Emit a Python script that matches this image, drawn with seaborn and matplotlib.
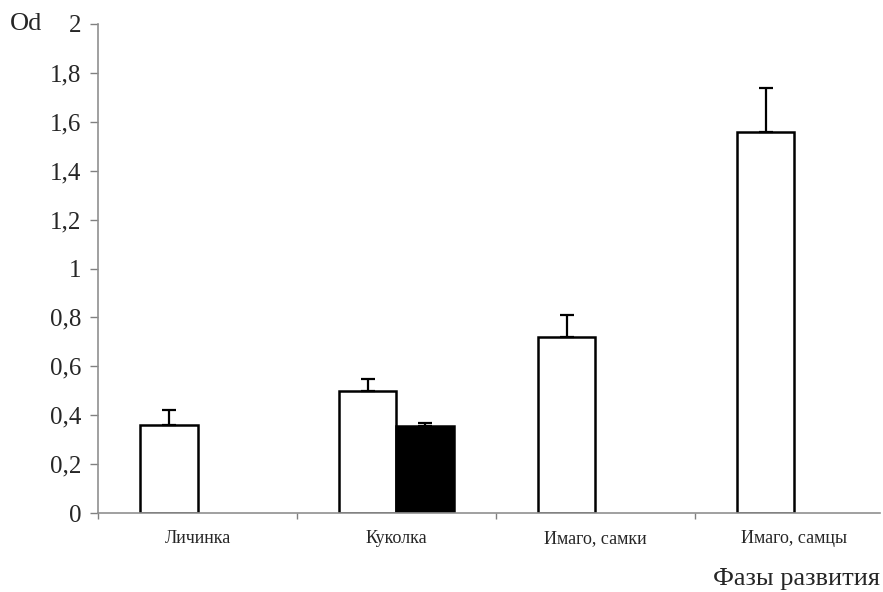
import pandas as pd
import numpy as np
import matplotlib
matplotlib.use("Agg")
import matplotlib.pyplot as plt
import seaborn as sns

# ── data ──
phases = ["Личинка", "Куколка", "Имаго, самки", "Имаго, самцы"]
series = ["A", "B"]
od_a = [0.36, 0.50, 0.72, 1.56]
err_a = [0.06, 0.05, 0.09, 0.18]
od_b = [np.nan, 0.355, np.nan, np.nan]
err_b = [np.nan, 0.012, np.nan, np.nan]
y_ticks = np.arange(0, 2.01, 0.2)
y_label = "Od"
x_label = "Фазы развития"

rows = []
for i, ph in enumerate(phases):
    rows.append({"phase": ph, "series": "A", "od": od_a[i], "err": err_a[i]})
    rows.append({"phase": ph, "series": "B", "od": od_b[i], "err": err_b[i]})
df = pd.DataFrame(rows)

sns.set_theme(style="white")
plt.rcParams["font.family"] = ["Liberation Serif", "DejaVu Serif"]

fig = plt.figure(figsize=(8.83, 5.92), dpi=100)
ax = fig.add_axes([0.111, 0.1334, 0.8856, 0.8261])

sns.barplot(data=df.dropna(subset=["od"]), x="phase", y="od", hue="series",
            order=phases, hue_order=series, palette=["white", "black"],
            edgecolor="black", linewidth=1.8, width=0.58, errorbar=None,
            legend=False, ax=ax)

# one-sided (plus) error bars on top of each bar
for k, s in enumerate(series):
    sub = df[(df.series == s)].dropna(subset=["od"])
    for bar, (_, r) in zip(ax.containers[k], sub.iterrows()):
        xc = bar.get_x() + bar.get_width() / 2
        ax.errorbar(xc, r["od"], yerr=[[0], [r["err"]]], fmt="none",
                    ecolor="black", elinewidth=1.6, capsize=5, capthick=1.6,
                    zorder=5)

ax.set_yticks(y_ticks)
ax.set_yticklabels([f"{v:g}".replace(".", ",") for v in np.round(y_ticks, 1)],
                   fontsize=18)
ax.set_xticks(range(len(phases)))
ax.set_xticklabels(phases, fontsize=13)
ax.set_xticks(np.arange(-0.5, 3.0, 1), minor=True)
ax.tick_params(axis="x", which="major", length=0, pad=12)
ax.tick_params(axis="x", which="minor", length=4, width=1, color="#808080",
               bottom=True)
ax.tick_params(axis="y", length=6, width=1, color="#808080", left=True, pad=6)
ax.set_xlim(-0.5, 3.43)
ax.set_ylim(0, 2)
ax.set_xlabel("")
ax.set_ylabel("")

sns.despine(ax=ax)
for sp in ["left", "bottom"]:
    ax.spines[sp].set_color("#909090")
    ax.spines[sp].set_linewidth(1.2)

fig.text(0.011, 0.9595, y_label, fontsize=19, va="center", ha="left")
fig.text(0.997, 0.022, x_label, fontsize=19, va="center", ha="right")

fig.savefig("out.png", dpi=100)
